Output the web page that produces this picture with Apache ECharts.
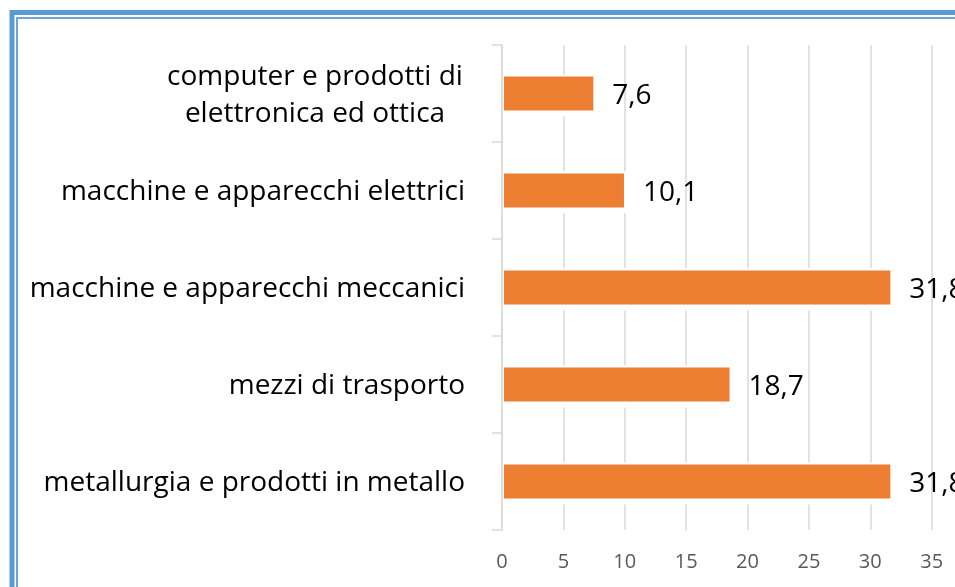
<!DOCTYPE html>
<html>
<head>
<meta charset="utf-8">
<script src="https://cdn.jsdelivr.net/npm/echarts@6/dist/echarts.min.js"></script>
<style>
  html, body { margin: 0; padding: 0; background: #fff; }
  #chart { width: 955px; height: 587px; }
</style>
</head>
<body>
<div id="chart"></div>
<script>
// settori (dall'alto verso il basso)
var categories = [
  'computer e prodotti di\nelettronica ed ottica',
  'macchine e apparecchi elettrici',
  'macchine e apparecchi meccanici',
  'mezzi di trasporto',
  'metallurgia e prodotti in metallo'
]
var values = [7.6, 10.1, 31.8, 18.7, 31.8]

var FONT = 'Open Sans'
var GRID = '#d9d9d9'

var chart = echarts.init(document.getElementById('chart'))

chart.setOption({
  animation: false,
  textStyle: { fontFamily: FONT },
  // cornice blu a doppia linea
  graphic: [
    {
      type: 'rect',
      shape: { x: 12, y: 12.5, width: 1000, height: 1000 },
      style: { fill: null, stroke: '#5b9bd5', lineWidth: 5 },
      silent: true
    },
    {
      type: 'rect',
      shape: { x: 17, y: 18, width: 1000, height: 1000 },
      style: { fill: null, stroke: '#6fa6da', lineWidth: 2 },
      silent: true
    }
  ],
  grid: {
    left: 502,
    top: 45,
    width: 491,
    height: 485,
    outerBoundsMode: 'none',
    containLabel: false
  },
  xAxis: {
    type: 'value',
    min: 0,
    max: 40,
    interval: 5,
    axisLine: { show: false },
    axisTick: { show: false },
    splitLine: { lineStyle: { color: GRID, width: 1.5 } },
    axisLabel: { color: '#595959', fontSize: 20, margin: 22, fontFamily: FONT }
  },
  yAxis: {
    type: 'category',
    data: categories,
    inverse: true,
    z: 5,
    axisLine: { show: true, lineStyle: { color: GRID, width: 1.5 } },
    axisTick: { show: true, length: 10, lineStyle: { color: GRID, width: 1.5 } },
    axisLabel: {
      color: '#000',
      fontSize: 28,
      margin: 37,
      fontFamily: FONT,
      lineHeight: 37,
      padding: [4, 0, 0, 0],
      formatter: function (val) {
        if (val.indexOf('\n') < 0) return val
        return val.split('\n').map(function (s) { return '{c|' + s + '}' }).join('\n')
      },
      rich: {
        c: { width: 300, align: 'center', fontSize: 28, lineHeight: 37, color: '#000', fontFamily: FONT }
      }
    }
  },
  series: [
    {
      // alone bianco che interrompe la griglia attorno alle barre
      type: 'bar',
      data: values,
      barWidth: 42,
      silent: true,
      itemStyle: { color: '#fff' },
      z: 1
    },
    {
      type: 'bar',
      data: values,
      barWidth: 38,
      barGap: '-100%',
      itemStyle: { color: '#ed7d31', borderColor: '#fff', borderWidth: 2 },
      z: 2,
      label: {
        show: true,
        position: 'right',
        distance: 17,
        offset: [0, 3],
        color: '#000',
        fontSize: 28,
        fontFamily: FONT,
        formatter: function (p) { return String(p.value).replace('.', ',') }
      }
    }
  ]
})
</script>
</body>
</html>
